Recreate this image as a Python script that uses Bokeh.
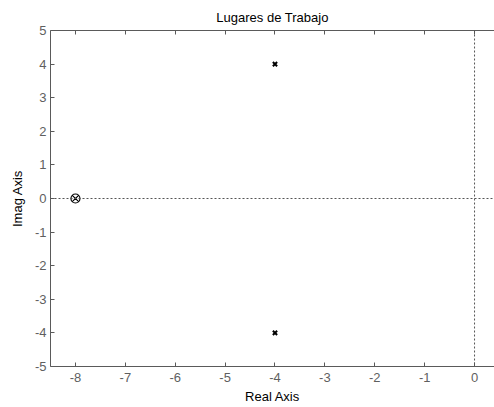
from bokeh.plotting import figure
from bokeh.models import LinearAxis, Span, FixedTicker, Range1d, PrintfTickFormatter, CustomJSTickFormatter
from bokeh.embed import file_html
from bokeh.resources import INLINE

# Data
pole_re = [-4, -4]
pole_im = [4, -4]
zero_re = [-8]
zero_im = [0]
x_ticks = [-8, -7, -6, -5, -4, -3, -2, -1, 0]
y_ticks = [-5, -4, -3, -2, -1, 0, 1, 2, 3, 4, 5]

FONT = "Liberation Sans"
AXC = "#5a5a5a"
LBC = "#5f5f5f"

p = figure(width=494, height=407, output_backend="svg", toolbar_location=None,
           x_range=Range1d(-8.5, 0.4), y_range=Range1d(-5, 5),
           min_border_left=50, min_border_top=30, min_border_bottom=41, min_border_right=0,
           x_axis_label="Real Axis", y_axis_label="Imag Axis")
p.outline_line_color = None
p.grid.visible = False
p.background_fill_color = "white"

p.title.text = "Lugares de Trabajo"
p.title.align = "center"
p.title.text_font = FONT
p.title.text_font_style = "normal"
p.title.text_font_size = "13px"
p.title.text_color = "black"
p.title.offset = 0
p.title.standoff = 12

for ax, ticks in ((p.xaxis[0], x_ticks), (p.yaxis[0], y_ticks)):
    ax.ticker = FixedTicker(ticks=ticks)
    ax.formatter = PrintfTickFormatter(format="%d")
    ax.major_tick_in = 4
    ax.major_tick_out = 0
    ax.minor_tick_in = 0
    ax.minor_tick_out = 0
    ax.axis_line_color = AXC
    ax.major_tick_line_color = AXC
    ax.major_label_text_color = LBC
    ax.major_label_text_font = FONT
    ax.major_label_text_font_size = "13px"
    ax.axis_label_text_font = FONT
    ax.axis_label_text_font_size = "13px"
    ax.axis_label_text_font_style = "normal"
    ax.axis_label_text_color = "black"

p.xaxis[0].major_label_standoff = 6
p.xaxis[0].axis_label_standoff = 4
p.yaxis[0].major_label_standoff = 4
p.yaxis[0].axis_label_standoff = 7

top = LinearAxis(ticker=FixedTicker(ticks=x_ticks), major_tick_in=4, major_tick_out=0,
                 minor_tick_in=0, minor_tick_out=0, axis_line_color=AXC,
                 major_tick_line_color=AXC,
                 formatter=CustomJSTickFormatter(code="return ''"),
                 major_label_standoff=0)
p.add_layout(top, "above")

p.add_layout(Span(location=0, dimension="width", line_color="#555555", line_dash="2 2", line_width=1))
p.add_layout(Span(location=0, dimension="height", line_color="#555555", line_dash="2 2", line_width=1))

p.scatter(pole_re, pole_im, marker="x", size=6, line_color="black", line_width=2)
p.scatter(zero_re, zero_im, marker="circle_x", size=9, line_color="black",
          fill_color=None, line_width=1.2)

open("out.html", "w").write(file_html(p, INLINE))
